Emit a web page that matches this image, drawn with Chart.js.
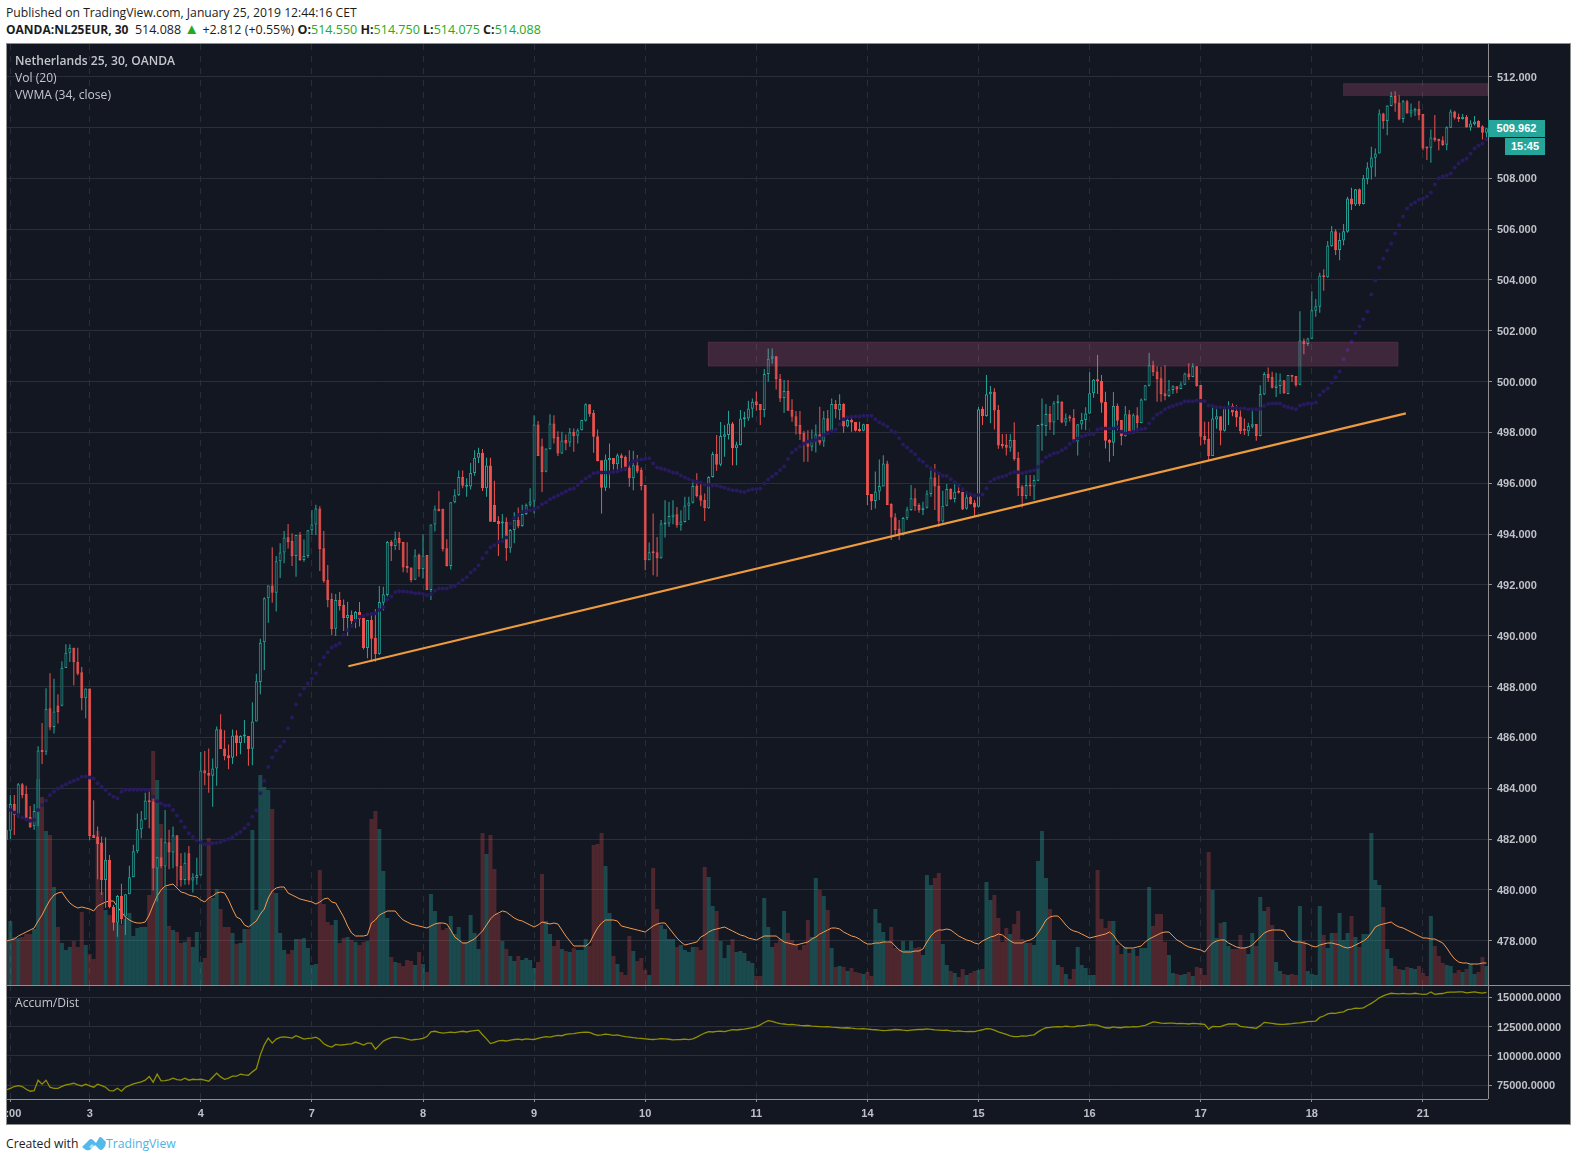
<!DOCTYPE html>
<html><head><meta charset="utf-8"><title>NL25EUR</title>
<script src="https://cdn.jsdelivr.net/npm/chart.js@4"></script>
<style>
html,body{margin:0;padding:0;background:#fff;width:1577px;height:1161px;overflow:hidden}
body{font-family:"Open Sans",sans-serif;position:relative}
.abs{position:absolute;white-space:nowrap}
#frame{left:6px;top:43px;width:1563px;height:1080px;background:#131722;border:1px solid #8f8f8f}
canvas{position:absolute;display:block}
.ln{position:absolute;background:#8f8f8f;z-index:5}
.leg{position:absolute;white-space:nowrap;color:#c4c6cb;font-size:12.1px;z-index:6;line-height:16px}
.tag{position:absolute;background:#26a69a;color:#fff;font:bold 11px "Liberation Sans",Arial,sans-serif;z-index:6;text-align:center}
.g{color:#22ab22}
</style></head><body>
<div class="abs" style="left:6px;top:4px;font-size:12.2px;line-height:17px;color:#1c1c1c" id="h1">Published on TradingView.com, January 25, 2019 12:44:16 CET</div>
<div class="abs" style="left:6px;top:21px;font-size:12.5px;line-height:17px;color:#1c1c1c" id="h2"><b style="font-size:12px">OANDA:NL25EUR, 30</b>&nbsp; 514.088 <span class="g" style="font-size:15px;line-height:0">▲</span> +2.812 (+0.55%) <b>O:</b><span class="g">514.550</span> <b>H:</b><span class="g">514.750</span> <b>L:</b><span class="g">514.075</span> <b>C:</b><span class="g">514.088</span></div>
<div id="frame" class="abs"></div>
<canvas id="main" width="1563" height="941" style="left:7px;top:44px"></canvas>
<canvas id="lower" width="1563" height="139" style="left:7px;top:985px"></canvas>
<div class="ln" style="left:1488px;top:44px;width:1px;height:1055px"></div>
<div class="ln" style="left:7px;top:985px;width:1563px;height:1px"></div>
<div class="ln" style="left:7px;top:1099px;width:1481px;height:1px"></div>
<div class="leg" style="left:15px;top:53px;font-weight:600">Netherlands 25, 30, OANDA</div>
<div class="leg" style="left:15px;top:70px">Vol (20)</div>
<div class="leg" style="left:15px;top:87px">VWMA (34, close)</div>
<div class="leg" style="left:15px;top:995px">Accum/Dist</div>
<div class="tag" style="left:1488px;top:120px;width:57px;height:17px;line-height:17px;padding-left:0">509.962</div>
<div class="tag" style="left:1505px;top:138px;width:40px;height:17px;line-height:17px">15:45</div>
<div class="abs" style="left:6px;top:1135px;font-size:12.2px;line-height:17px;color:#1c1c1c">Created with</div>
<svg class="abs" style="left:82px;top:1136px" width="24" height="15" viewBox="0 0 24 15"><path d="M0 11 L7 4 Q9 2 11 4 L14 7 L17 2 Q18 0 20 2 L24 6 Q24 10 21 13 Q19 15 17 13 L13 9 L9 13 Q7 15 4 14 Z" fill="#53b9ea"/><path d="M7 11 L10 8 L14 12 L12 14 Z" fill="#fff" opacity=".55"/></svg>
<div class="abs" style="left:106px;top:1135px;font-size:12.2px;line-height:17px;color:#4db3e6">TradingView</div>
<script>
const dateIndex=[1,21,49,77,105,133,161,189,217,245,273,301,329,357];
const dateLabels=["2:00","3","4","7","8","9","10","11","14","15","16","17","18","21"];
const priceTicks=[478,480,482,484,486,488,490,492,494,496,498,500,502,504,506,508,510,512];
const adTicks=[75000,100000,125000,150000];
const zoneX0=[176.8,336.9],zoneX1=[350.8,373.4],zoneHigh=[501.57,511.74],zoneLow=[500.6,511.25];
const trendX=[86.2,352.7],trendY=[488.8,498.75];
const opens=[482.35,482.33,483.38,482.95,484.16,483.77,482.88,482.5,483.1,485.5,
485.43,487.15,486.41,487.25,487.24,488.73,489.33,489.53,488.98,488.56,
487.54,487.92,482.16,482.1,481.86,480.39,481.18,479.32,478.7,479.76,
478.95,479.83,480.5,481.52,482.38,482.77,483.53,483.48,480.84,481.28,
480.92,481.87,481.47,482.15,480.94,480.39,481.44,480.37,480.47,480.56,
484.71,484.6,484.49,484.78,486.32,485.56,485.3,485.2,486.08,485.78,
486.03,486.05,485.55,486.62,488.18,489.74,491.48,491.98,491.69,492.93,
493.28,493.88,493.73,493.14,493.96,492.98,493.14,494.15,494.38,495.01,
493.44,492.2,491.45,490.27,491.41,491.21,490.7,490.82,490.58,490.93,
490.7,489.52,490.62,489.92,489.28,491.3,491.6,493.7,493.53,493.85,
493.69,492.74,492.69,492.2,493.18,492.63,493.18,491.8,494.38,495,
495,493.44,492.74,495.25,495.53,496.25,495.86,495.87,496.4,497.0,
497.2,495.8,496.7,495.14,494.52,494.42,494.49,493.44,494.16,494.56,
494.32,494.79,495.15,495.28,498.31,497.46,496.45,497.34,498.35,497.82,
497.17,497.7,497.6,498.03,497.87,498.09,498.46,499.11,498.77,497.85,
496.91,495.82,496.91,496.99,496.75,497.1,497.04,496.62,496.2,496.71,
496.52,495.93,492.97,493.29,493.29,493.05,494.38,494.42,494.66,494.78,
494.35,494.48,495.12,495.23,495.89,495.53,495.34,495.02,496.25,497.15,
496.73,497.83,497.9,498.35,497.38,497.51,498.52,498.55,498.93,499.23,
499.12,498.88,500.3,500.9,501.0,500.1,499.36,499.63,498.88,498.64,
498.29,497.99,497.62,497.44,497.63,497.93,497.64,498.56,498.04,499.12,
498.88,499.12,498.23,498.49,498.41,498.1,498.07,498.33,495.58,495.3,
495.68,495.87,496.78,495.18,494.66,494.22,493.96,494.62,494.95,495.41,
495.14,494.95,495.04,495.58,496.23,495.89,494.5,495.12,495.77,495.38,
495.71,495.66,495.0,495.47,495.24,495.08,498.92,498.65,499.5,499.6,
498.88,497.55,497.51,497.4,497.7,496.99,495.87,495.5,495.94,495.87,
496.1,498.27,498.25,498.73,498.39,499.15,499.21,498.39,498.56,498.57,
497.64,498.31,498.49,498.75,499.54,500.07,500.02,499.2,497.7,497.59,
499.04,498.49,497.86,498.72,498.01,498.68,498.37,499.27,499.84,500.64,
500.4,500.13,499.54,499.43,499.67,499.82,499.71,499.88,500.32,500.18,
500.61,499.87,497.86,497.74,497.07,498.51,498.64,498.07,498.94,499.04,
498.84,498.63,498.09,498.05,498.22,498.33,497.86,499.49,500.3,500.18,
499.75,499.83,500.05,499.51,500.25,500.22,499.88,501.62,501.48,501.69,
502.79,502.95,504.18,504.11,505.33,505.92,505.18,505.55,505.9,507.21,
506.97,507.57,506.99,507.97,508.43,508.81,508.98,510.55,510.26,510.85,
511.24,510.98,510.34,511.03,510.55,510.63,510.73,510.53,509.24,509.2,
509.61,509.56,509.5,509.32,509.99,510.63,510.41,510.34,510.41,510.0,
510.14,510.26,510.05,509.79];
const closes=[481.95,483.38,482.95,484.16,483.73,482.8,482.46,483.1,485.48,485.42,
487.13,486.39,487.02,487.0,488.74,489.33,489.53,488.97,488.5,487.54,
487.92,482.12,482.04,481.8,480.39,481.18,479.32,478.7,479.76,478.85,
479.83,480.5,481.52,482.38,482.77,483.52,483.45,480.84,481.28,480.94,
481.87,481.47,482.15,480.92,480.39,481.07,480.37,480.5,480.58,484.7,
484.58,484.49,484.78,486.32,485.54,485.26,485.18,486.07,485.77,486.05,
486.05,485.54,486.62,488.21,489.72,491.48,491.98,491.69,492.93,493.28,
493.87,493.69,493.14,493.96,492.98,493.14,494.15,494.38,495.01,493.41,
492.14,491.41,490.26,491.41,491.17,490.7,490.82,490.58,490.93,490.66,
489.52,490.62,489.88,489.28,491.33,491.63,493.69,493.53,493.83,493.64,
492.69,492.67,492.19,493.16,492.63,493.16,491.8,494.38,494.98,494.9,
493.41,492.74,495.25,495.53,496.25,495.9,495.9,496.4,497.0,497.2,
495.8,496.7,494.49,494.48,494.4,494.44,493.44,494.16,494.56,494.32,
494.79,495.15,495.28,498.31,497.07,496.44,497.37,498.35,497.76,497.17,
497.68,497.57,498.01,497.86,498.09,498.49,499.11,498.72,497.83,496.87,
495.82,496.94,496.99,496.75,497.1,496.99,496.58,496.2,496.71,496.46,
495.89,492.97,493.29,493.25,493.05,494.42,494.46,494.71,494.77,494.35,
494.5,495.13,495.24,495.89,495.5,495.31,495.02,496.25,497.15,496.73,
497.86,497.93,498.35,497.38,497.53,498.55,498.59,498.94,499.21,499.08,
498.88,500.3,500.9,501.0,500.1,499.34,499.63,498.85,498.62,498.25,
497.93,497.57,497.44,497.66,497.93,497.59,498.56,498.07,499.12,498.91,
499.12,498.23,498.49,498.39,498.07,498.06,498.32,495.54,495.3,495.68,
495.89,496.78,495.14,494.65,494.16,493.96,494.63,494.97,495.41,495.1,
494.95,495.04,495.6,496.23,495.87,494.5,495.12,495.77,495.38,495.67,
495.63,494.97,495.45,495.18,495.05,498.91,498.65,499.5,499.6,498.86,
497.49,497.47,497.4,497.7,496.95,495.81,495.5,495.93,495.87,496.13,
498.29,498.35,498.73,498.39,499.15,499.19,498.39,498.56,498.55,497.64,
498.32,498.49,498.75,499.54,500.07,500.01,499.17,497.67,497.59,499.04,
498.46,497.86,498.72,498.01,498.68,498.37,499.3,499.86,500.64,500.38,
500.09,499.51,499.43,499.69,499.82,499.69,499.89,500.32,500.17,500.61,
499.83,497.83,497.7,497.07,498.55,498.64,498.07,498.95,499.04,498.79,
498.59,498.05,498.07,498.25,498.32,497.86,499.51,500.3,500.14,499.76,
499.85,500.05,499.54,500.26,500.19,499.86,501.62,501.48,501.7,502.81,
502.97,504.18,504.11,505.36,505.92,505.18,505.57,505.92,507.21,506.97,
507.57,506.99,508.0,508.43,508.82,508.98,510.55,510.26,510.87,511.24,
510.95,510.32,511.03,510.55,510.68,510.74,510.48,509.17,509.17,509.61,
509.5,509.46,509.31,510.01,510.63,510.38,510.34,510.42,510.0,510.16,
510.24,510.0,509.79,509.97];
const highs=[482.5,483.73,483.73,484.2,484.2,484.1,483.3,483.38,485.65,486.57,
487.93,488.52,488.31,487.7,489.0,489.66,489.66,489.53,489.53,488.77,
487.92,487.92,483.53,482.49,482.1,482.07,481.37,479.4,479.8,480.24,
479.83,480.95,481.77,483.0,483.1,483.82,483.93,483.73,481.3,482.03,
483.14,482.36,482.49,482.15,481.44,481.47,481.73,480.65,481.26,485.42,
485.46,485.56,485.17,486.43,486.91,486.28,485.72,486.31,486.28,486.08,
486.68,486.05,487.38,488.5,489.88,491.51,491.98,493.48,493.14,493.64,
494.12,494.4,494.03,493.96,494.08,493.79,494.16,494.95,495.15,495.1,
494.12,492.78,491.67,491.64,491.72,491.43,491.34,490.99,490.97,491.33,
490.72,490.62,490.9,491.04,491.96,491.93,493.73,493.77,494.1,494.08,
493.69,493.68,492.69,493.4,493.24,493.99,493.18,494.38,495.13,495.7,
495,493.8,495.25,495.76,496.5,496.5,496.2,496.8,497.3,497.4,
497.35,497.0,497.0,496.1,494.7,494.79,494.65,494.2,494.86,495.05,
495.15,495.2,495.8,498.68,498.45,497.76,497.37,498.72,498.68,498.05,
498.03,497.92,498.18,498.16,498.16,498.5,499.15,499.11,498.88,498.12,
496.91,497.13,497.57,496.99,497.17,497.17,497.09,497.3,497.28,497.11,
496.62,495.93,493.67,494.81,493.89,494.55,495.33,495.26,495.33,495.07,
494.94,495.47,495.47,496.12,496.39,496.02,495.6,496.28,497.24,497.9,
498.41,498.29,498.85,498.41,497.63,498.88,498.81,499.25,499.34,499.61,
499.12,500.5,501.3,501.3,501.0,500.3,500.06,500.06,499.31,498.84,
498.84,498.07,498.09,498.12,498.31,499.01,498.84,498.88,499.34,499.28,
499.5,499.15,498.62,498.69,498.41,498.42,498.34,498.33,495.58,496.46,
496.94,497.1,496.89,495.21,494.82,494.55,494.67,495.08,495.93,495.8,
495.21,495.27,495.73,496.65,496.76,496.35,495.71,495.97,495.8,495.97,
495.96,495.67,495.58,495.6,495.34,499.0,499.02,500.26,499.83,499.74,
499.08,497.94,497.94,497.94,498.4,497.23,495.93,496.33,496.33,496.33,
498.3,499.34,499.12,499.04,499.24,499.47,499.24,498.75,498.69,498.91,
498.32,498.78,498.99,500.37,500.1,501.05,500.26,499.6,497.73,499.59,
499.14,498.49,499.04,498.88,498.75,498.99,499.34,499.86,501.14,500.82,
500.61,500.59,500.64,500.06,499.86,499.82,500.0,500.35,500.72,500.72,
500.61,499.87,498.42,498.42,499.04,499.04,498.64,499.04,499.23,499.14,
499.08,498.95,498.55,498.38,498.95,498.33,499.86,500.38,500.56,500.39,
500.35,500.32,500.05,500.26,500.25,500.22,502.77,501.7,501.73,503.56,
503.25,504.28,504.42,505.53,506.12,506.0,505.86,506.2,507.28,507.63,
507.58,507.6,508.13,508.63,509.24,509.17,510.71,510.58,510.88,511.41,
511.43,511.27,511.08,511.08,510.95,510.78,511.04,510.53,509.24,509.92,
510.49,509.56,509.66,510.05,510.71,510.66,510.55,510.53,510.49,510.29,
510.45,510.29,510.09,509.97];
const lows=[481.9,482.0,482.16,482.85,483.6,482.77,482.43,482.36,482.5,484.95,
485.31,486.28,486.15,486.55,487.22,488.73,488.97,488.05,488.44,487.07,
486.75,481.96,482.04,480.42,479.8,479.3,479.28,478.4,478.15,478.65,
478.22,479.83,480.5,481.44,482.03,482.75,482.42,479.97,479.54,480.85,
480.13,480.81,480.85,480.13,480.13,480.2,480.2,479.9,480.2,480.56,
484.12,483.82,483.27,484.1,485.54,485.1,484.75,484.95,485.26,485.34,
485.78,484.88,484.9,486.62,487.7,488.65,490.51,491.3,490.95,492.27,
492.85,493.43,492.74,492.32,492.94,492.91,493.06,493.96,493.96,492.55,
492.09,491.12,490.03,489.99,490.99,490.19,490.0,490.46,490.29,490.36,
489.46,489.11,488.98,488.98,489.25,490.99,491.54,492.94,493.37,493.37,
492.5,492.48,492.1,492.2,492.32,492.25,491.8,491.41,494.1,494.9,
493.31,492.72,492.61,495.21,495.5,495.8,495.47,495.75,496.3,496.8,
495.7,495.47,494.49,494.48,493.14,493.83,492.95,493.27,493.64,494.23,
494.29,494.75,495.08,494.81,497.07,495.66,496.43,497.33,497.57,497.07,
497.15,497.3,497.44,497.24,497.57,498.08,498.43,498.62,497.2,496.87,
494.81,495.7,495.8,496.54,496.54,496.54,496.49,495.86,495.73,496.39,
495.73,492.58,492.97,492.38,492.32,493.03,493.87,494.29,494.39,494.25,
494.13,494.46,494.55,495.2,495.44,495.1,494.52,495.0,496.23,496.49,
496.67,497.04,497.72,496.71,496.71,497.49,498.2,498.46,498.59,498.85,
498.29,498.6,500.0,500.7,499.69,499.2,498.77,498.85,498.42,497.92,
497.7,496.85,496.85,497.26,497.21,497.5,497.44,497.97,498.02,498.56,
498.49,497.99,498.2,498.03,498.04,498.03,498.05,495.14,494.95,495.01,
495.34,495.87,495.14,493.77,493.96,493.77,493.94,494.55,494.92,494.92,
494.84,494.75,495.01,495.47,494.95,494.29,494.45,495.1,495.34,495.24,
495.6,494.95,494.97,495.16,494.68,495.05,498.29,498.62,498.36,498.12,
497.36,497.37,497.09,497.24,496.89,495.5,495.05,495.38,495.5,495.34,
496.08,497.28,497.86,498.1,497.9,498.49,498.36,498.25,498.43,497.64,
497.09,498.12,498.1,498.73,499.37,499.51,498.78,497.37,496.85,497.07,
498.09,497.5,497.83,498.01,497.94,498.12,498.36,499.25,499.81,500.22,
499.21,499.21,499.27,499.4,499.51,499.54,499.7,499.87,500.06,500.17,
499.8,497.5,497.54,496.89,497.07,498.15,497.5,498.04,498.29,498.64,
498.22,497.94,497.9,497.86,498.16,497.67,497.85,499.47,500.0,499.73,
499.4,499.51,499.51,499.5,499.99,499.8,499.86,501.08,501.4,501.67,
502.55,502.71,503.58,504.09,505.31,504.98,504.78,505.37,505.86,506.75,
506.91,506.91,506.97,507.77,507.95,508.06,508.98,509.95,509.7,510.84,
510.62,510.29,510.19,510.55,510.4,510.45,510.29,509.11,508.72,508.61,
509.44,509.11,509.27,509.11,509.98,510.32,510.22,510.32,510.0,509.87,
510.08,510.0,509.53,509.61];
const volumes=[45,64,48,47,48,51,51,56,206,188,
154,150,98,58,42,35,38,44,38,73,
40,31,26,154,93,75,70,65,62,60,
66,72,49,57,58,58,90,234,205,161,
98,59,55,53,42,43,48,38,53,23,
27,147,87,96,76,58,58,52,41,42,
56,56,155,75,210,198,195,176,92,52,
35,31,35,46,46,47,37,20,21,115,
81,63,60,65,42,47,48,45,43,40,
43,44,166,174,156,114,67,28,23,22,
19,25,24,20,33,21,13,91,74,62,
55,57,69,51,58,43,43,70,52,36,
152,131,150,116,71,44,36,29,24,29,
25,27,25,17,23,111,64,51,39,45,
36,34,33,37,35,35,46,39,140,141,
152,119,72,29,21,13,10,49,34,24,
27,15,10,117,76,60,56,46,46,38,
40,35,33,38,38,35,118,108,79,74,
44,27,40,46,33,34,32,24,22,9,
9,87,58,38,42,46,74,52,45,40,
35,40,65,48,107,95,89,75,37,18,
19,18,14,17,13,12,11,13,9,76,
62,53,42,58,37,35,44,35,44,37,
38,30,110,100,107,112,41,20,14,12,
8,16,10,12,14,15,16,103,85,90,
67,43,57,51,61,74,46,42,42,40,
124,154,107,76,45,20,18,11,6,16,
38,20,17,10,10,115,66,57,64,64,
40,31,38,32,36,29,37,37,98,59,
71,71,43,30,12,11,10,11,13,9,
18,17,10,133,95,47,62,63,39,36,
36,50,38,31,52,39,88,74,78,60,
23,14,11,10,11,10,79,44,14,11,
10,79,50,37,52,52,72,45,52,69,
48,38,51,51,152,105,100,78,36,27,
19,16,15,18,17,16,19,12,9,69,
39,29,22,20,19,12,15,13,16,21,
11,13,28,19];
const volAvg=[44,45,46,49,51,53,55,57,64,70,
78,85,90,92,93,87,82,79,77,78,
77,76,74,79,81,83,84,84,78,73,
68,65,63,62,62,63,70,80,89,95,
99,100,101,97,93,92,90,89,88,85,
83,87,89,92,93,92,85,76,68,66,
60,58,61,64,71,76,87,94,97,98,
98,92,90,88,86,85,84,83,81,83,
86,87,83,82,75,68,59,52,49,49,
49,50,62,65,70,72,74,74,74,69,
65,63,61,60,59,58,57,59,61,62,
62,61,55,48,45,42,42,44,46,50,
54,60,66,70,72,74,73,70,67,65,
64,62,60,58,60,63,62,61,62,61,
55,49,44,39,39,39,39,42,50,57,
62,65,65,65,64,59,58,57,56,55,
54,53,56,59,61,62,62,57,52,47,
43,40,41,42,43,48,50,53,55,56,
57,58,56,54,52,50,49,47,46,45,
47,49,49,49,49,46,43,42,41,40,
41,42,43,46,48,51,53,55,57,57,
56,53,51,49,48,46,43,41,41,42,
42,43,43,43,39,35,33,33,33,34,
34,36,43,49,53,55,55,56,55,52,
49,47,45,44,42,41,44,46,48,49,
51,50,47,44,42,42,42,44,45,47,
52,58,65,68,69,69,65,60,56,54,
53,51,49,47,48,49,50,51,53,50,
44,40,37,37,37,38,39,43,46,48,
50,52,53,53,49,45,43,40,38,37,
36,35,33,38,42,44,45,45,42,40,
38,37,37,38,40,44,48,52,54,55,
55,55,54,48,44,43,43,42,41,39,
38,40,41,42,42,41,40,38,37,38,
40,42,44,47,52,58,60,61,62,63,
60,58,57,55,53,51,49,47,47,46,
46,44,42,37,31,26,23,22,22,21,
21,21,22,22];
const vwma=[483.3,483.14,483.04,482.95,482.85,482.77,482.72,482.75,483.14,483.34,
483.52,483.72,483.87,483.99,484.08,484.16,484.23,484.29,484.35,484.45,
484.46,484.42,484.38,484.19,484.06,483.93,483.76,483.66,483.6,483.86,
483.94,483.94,483.94,483.94,483.94,483.94,483.93,483.66,483.49,483.4,
483.32,483.32,483.14,482.93,482.7,482.46,482.23,482.09,481.95,481.86,
481.79,481.82,481.83,481.85,481.88,481.95,482.0,482.07,482.19,482.28,
482.42,482.58,482.88,483.13,483.8,484.29,484.83,485.21,485.48,485.64,
485.84,486.35,486.78,487.29,487.68,487.92,488.12,488.31,488.52,488.87,
489.15,489.35,489.54,489.62,489.7,490.03,490.22,490.38,490.59,490.75,
490.78,490.84,490.87,490.88,491.01,491.12,491.43,491.54,491.72,491.75,
491.75,491.73,491.71,491.67,491.67,491.64,491.59,491.64,491.77,491.86,
491.86,491.86,491.93,491.96,492.06,492.19,492.3,492.49,492.61,492.77,
493.05,493.28,493.48,493.56,493.69,493.72,493.87,494.42,494.62,494.75,
494.87,494.9,494.94,494.99,495.05,495.17,495.24,495.37,495.45,495.52,
495.6,495.68,495.76,495.79,495.93,496.07,496.19,496.28,496.39,496.42,
496.42,496.42,496.42,496.44,496.46,496.52,496.58,496.78,496.87,496.91,
496.94,496.96,496.98,496.78,496.62,496.58,496.54,496.48,496.42,496.4,
496.31,496.23,496.16,496.1,496.06,496.03,495.95,495.93,495.91,495.91,
495.86,495.82,495.76,495.73,495.72,495.68,495.66,495.72,495.76,495.77,
495.79,495.99,496.15,496.27,496.37,496.52,496.66,496.96,497.21,497.33,
497.45,497.57,497.63,497.67,497.7,497.77,497.9,497.97,498.04,498.12,
498.32,498.52,498.6,498.62,498.63,498.63,498.66,498.66,498.66,498.52,
498.4,498.32,498.23,498.07,498.0,497.77,497.53,497.41,497.26,497.14,
496.94,496.85,496.68,496.56,496.5,496.39,496.3,496.29,496.16,496.04,
495.91,495.76,495.64,495.58,495.52,495.54,495.56,495.8,496.05,496.16,
496.23,496.26,496.31,496.39,496.44,496.43,496.39,496.43,496.47,496.51,
496.65,496.85,497.02,497.1,497.18,497.2,497.3,497.39,497.55,497.66,
497.76,497.85,497.89,497.93,497.93,498.12,498.16,498.16,498.16,498.16,
498.2,498.03,497.96,497.99,498.03,498.1,498.13,498.16,498.36,498.55,
498.71,498.79,498.91,498.99,499.04,499.1,499.14,499.23,499.23,499.23,
499.26,499.25,499.23,499.06,499.04,498.99,498.99,498.97,498.99,498.95,
498.97,498.93,498.95,498.91,498.91,498.91,498.93,499.04,499.12,499.14,
499.14,499.14,499.04,498.99,498.95,498.91,499.06,499.1,499.14,499.14,
499.18,499.46,499.62,499.73,499.97,500.17,500.4,500.88,501.24,501.58,
501.9,502.17,502.45,502.76,503.43,503.98,504.49,504.85,505.16,505.44,
505.83,506.15,506.5,506.81,506.97,507.05,507.17,507.21,507.29,507.44,
507.76,508.0,508.07,508.11,508.19,508.43,508.58,508.7,508.78,508.98,
509.17,509.29,509.37,509.53];
const accDist=[71000,72400,73900,74700,73900,71600,69900,70400,79300,75900,
79300,73300,72400,72400,74100,75300,75900,76700,75300,74400,
75900,74400,73300,75900,74700,73300,70400,70200,72400,69900,
73300,74700,76100,77000,77900,79300,82400,77600,84400,78700,
79000,79600,81000,79800,79300,81000,79300,80100,79800,80100,
79300,78400,81800,85300,82100,80100,81000,82700,82700,84400,
83800,83500,86400,89000,100900,109500,115200,110900,114300,115800,
116300,115800,115200,117200,115800,114300,114900,115200,116000,114000,
110300,108600,107500,109800,109200,109500,110100,110300,111800,110600,
109200,110900,110900,105800,109200,112600,114300,115500,116000,115500,
115200,114300,113500,114000,114300,115000,116500,120500,121000,120000,
119500,119800,120300,119900,120500,121000,120400,121200,121600,122000,
118000,114500,110500,111500,112800,113200,112700,113500,114000,114300,
113800,114500,114200,114000,115000,115800,116500,116000,116900,117500,
117200,118300,118800,119000,119600,120000,120200,120000,118500,117600,
118000,118600,118200,117500,117900,117000,116500,116100,115600,115200,
115000,114600,114200,114000,114300,114800,114500,114200,113600,113800,
114000,114300,113900,114500,116000,117800,119500,120700,120400,120900,
121000,120700,121500,122400,122100,122500,122800,123500,124200,125000,
126500,128500,130000,129500,128400,127600,127200,126700,126900,126400,
126000,125700,125900,125400,125200,125000,124800,124900,124500,124300,
124000,123800,124000,123600,123300,123100,123300,122900,122500,122300,
121900,121600,121800,122100,122500,122300,121900,121600,122000,122300,
122700,122500,123000,122600,122200,122000,121700,121900,121300,121000,
121300,120900,120700,120900,120700,121500,122300,123300,123000,122000,
120500,119500,118300,117000,116500,116500,117000,116800,117500,118000,
120500,122500,124000,124300,124800,125000,124700,125300,125000,124800,
125500,125700,126000,126700,126500,126200,125000,124000,123800,124800,
124200,124000,124800,124500,125000,124700,125300,126000,127500,129000,
128600,128000,127800,127900,128000,127500,127700,127600,127200,127800,
127500,127200,126900,122900,125200,124900,124900,126300,127200,127200,
127200,125200,124700,124300,124000,123500,125800,128600,128200,127700,
127200,126900,126900,127200,127500,127900,128100,128700,129200,129500,
129700,132800,134000,135800,136400,136300,137200,137500,139500,139800,
140700,140500,141000,143000,144800,147000,149500,151200,152400,153400,
153100,152800,153300,152900,152900,153400,152800,152500,152600,154500,
152500,153000,153200,154200,154300,154400,154500,154500,153800,154200,
154500,154000,153500,154200];

const bars=closes.map((_,i)=>i);
const UP='#26a69a',DOWN='#ef5350',BG='#131722',GRID='#2a2e39',AXT='#bfc1c6';
const isUp=i=>closes[i]>=opens[i];
Chart.defaults.font.family='"Liberation Sans",Arial,sans-serif';

const zonesPlugin={id:'zones',afterDatasetsDraw(c){
  const {ctx,scales:{x,y},chartArea:a}=c;
  ctx.save();ctx.beginPath();ctx.rect(a.left,a.top,a.width,a.height);ctx.clip();
  zoneX0.forEach((v,k)=>{
    const l=x.getPixelForValue(v),r=x.getPixelForValue(zoneX1[k]),t=y.getPixelForValue(zoneHigh[k]),b=y.getPixelForValue(zoneLow[k]);
    ctx.fillStyle='rgba(239,107,162,0.2)';ctx.fillRect(l,t,r-l,b-t);
    ctx.strokeStyle='rgba(239,107,162,0.08)';ctx.strokeRect(l+.5,t+.5,r-l-1,b-t-1);
  });
  ctx.restore();
}};
const xScale=(tickLen,showLabels,h)=>({
  type:'linear',min:0.16,max:373.4,offset:false,
  afterBuildTicks(s){s.ticks=dateIndex.map(v=>({value:v}))},
  afterFit(s){s.height=h;s.paddingLeft=0;s.paddingRight=0},
  border:{display:false,dash:[6,6]},
  grid:{offset:false,color:GRID,lineWidth:1,drawTicks:tickLen>0,tickLength:tickLen,tickColor:'#8f8f8f',tickBorderDash:[]},
  ticks:{display:showLabels,autoSkip:false,maxRotation:0,minRotation:0,padding:5,color:AXT,font:{size:11,weight:'bold'},
    callback(v){const k=dateIndex.indexOf(v);return k<0?'':dateLabels[k]}}
});
const yScale=(vals,min,max,dec)=>({
  position:'right',min,max,
  afterBuildTicks(s){s.ticks=vals.map(v=>({value:v}))},
  afterFit(s){s.width=82;s.paddingTop=0;s.paddingBottom=0},
  border:{display:false},
  grid:{color:GRID,lineWidth:1,tickLength:4,tickColor:'#8f8f8f'},
  ticks:{autoSkip:false,padding:5,labelOffset:1,color:AXT,font:{size:11,weight:'bold'},callback:v=>Number(v).toFixed(dec)}
});

new Chart(document.getElementById('main'),{
  type:'bar',
  data:{datasets:[
    {type:'line',label:'Trend',order:0,data:trendX.map((v,k)=>({x:v,y:trendY[k]})),borderColor:'#ee9a3e',borderWidth:2.2,pointRadius:0,yAxisID:'y'},
    {type:'line',label:'VWMA',order:1,data:bars.map(i=>({x:i,y:vwma[i]})),showLine:false,pointRadius:2,pointBorderWidth:0,pointBackgroundColor:'#281a5e',yAxisID:'y'},
    {type:'bar',label:'Body',order:2,data:bars.map(i=>({x:i,y:[opens[i],closes[i]]})),barThickness:3,minBarLength:2,borderWidth:1,borderSkipped:false,inflateAmount:0,
      backgroundColor:bars.map(i=>isUp(i)?BG:DOWN),borderColor:bars.map(i=>isUp(i)?UP:DOWN),yAxisID:'y'},
    {type:'bar',label:'Wick',order:3,data:bars.map(i=>({x:i,y:[lows[i],highs[i]]})),barThickness:1,borderWidth:0,inflateAmount:0,
      backgroundColor:bars.map(i=>isUp(i)?UP:DOWN),yAxisID:'y'},
    {type:'line',label:'Vol MA',order:4,data:bars.map(i=>({x:i,y:volAvg[i]})),borderColor:'#f59a50',borderWidth:1,pointRadius:0,yAxisID:'yVol'},
    {type:'bar',label:'Volume',order:5,data:bars.map(i=>({x:i,y:volumes[i]})),barThickness:4,borderWidth:0,inflateAmount:0,
      backgroundColor:bars.map(i=>isUp(i)?'rgba(38,166,154,0.36)':'rgba(239,83,80,0.27)'),yAxisID:'yVol'}
  ]},
  options:{responsive:false,animation:false,devicePixelRatio:1,
    layout:{padding:0,autoPadding:false},
    datasets:{bar:{grouped:false}},
    plugins:{legend:{display:false},tooltip:{enabled:false}},
    scales:{
      x:xScale(0,false,0),
      y:yScale(priceTicks,476.255,513.287,3),
      yVol:{display:false,min:0,max:941,position:'left'}
    }},
  plugins:[zonesPlugin]
});

new Chart(document.getElementById('lower'),{
  type:'line',
  data:{datasets:[{label:'Accum/Dist',data:bars.map(i=>({x:i,y:accDist[i]})),borderColor:'#909000',borderWidth:1.3,pointRadius:0,tension:0}]},
  options:{responsive:false,animation:false,devicePixelRatio:1,
    layout:{padding:0,autoPadding:false},
    plugins:{legend:{display:false},tooltip:{enabled:false}},
    scales:{
      x:xScale(3,true,25),
      y:yScale(adTicks,63270,160445,4)
    }}
});
</script>
</body></html>
